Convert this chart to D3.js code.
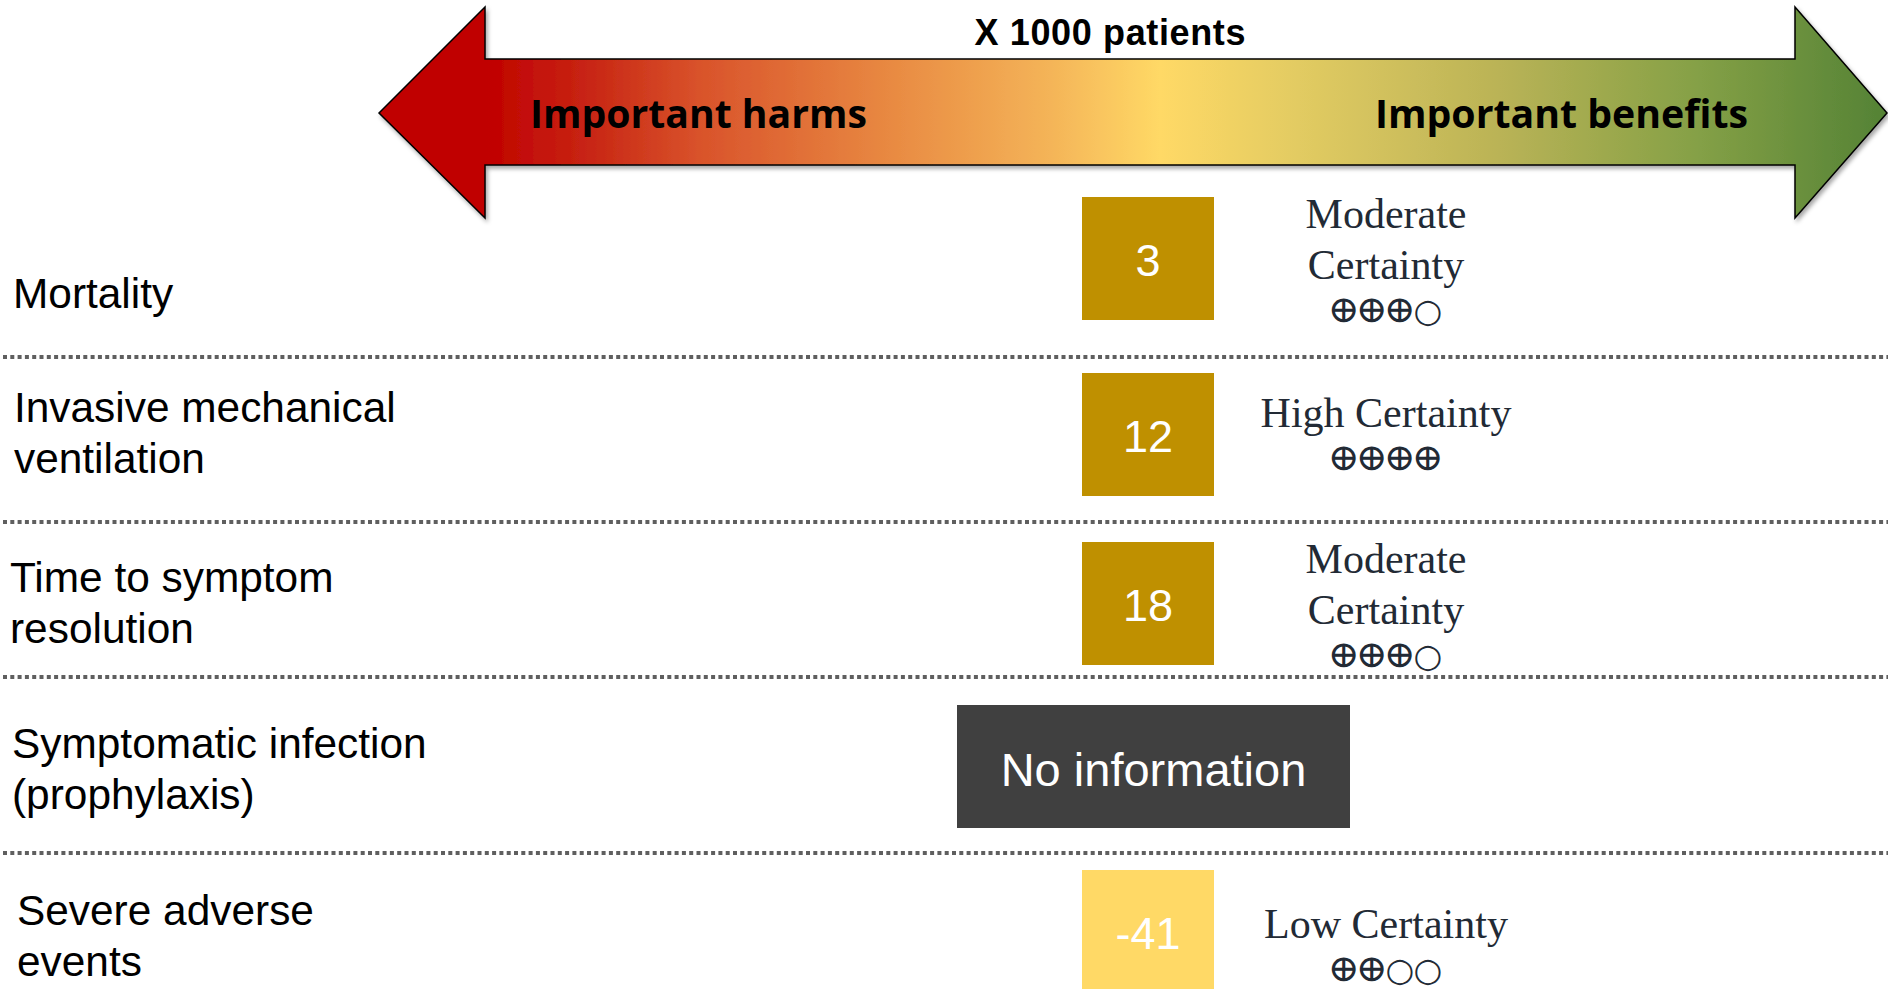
<!DOCTYPE html>
<html>
<head>
<meta charset="utf-8">
<script src="https://cdn.jsdelivr.net/npm/d3@7/dist/d3.min.js"></script>
<style>
    html, body { margin: 0; padding: 0; background: #ffffff; overflow: hidden; }
    svg { display: block; }
</style>
</head>
<body>
<svg id="chart"></svg>
<script>
// chart values
const outcomes = ['Mortality', 'Invasive mechanical ventilation', 'Time to symptom resolution',
                  'Symptomatic infection (prophylaxis)', 'Severe adverse events'];
const outcome_lines = [['Mortality'], ['Invasive mechanical', 'ventilation'], ['Time to symptom', 'resolution'],
                       ['Symptomatic infection', '(prophylaxis)'], ['Severe adverse', 'events']];
const effects = [3, 12, 18, null, -41];
const certainty_lines = [['Moderate', 'Certainty'], ['High Certainty'], ['Moderate', 'Certainty'], null, ['Low Certainty']];
const certainty_ratings = ['⊕⊕⊕○', '⊕⊕⊕⊕', '⊕⊕⊕○', null, '⊕⊕○○'];
const scale_title = 'X 1000 patients';
const harm_label = 'Important harms';
const benefit_label = 'Important benefits';
const missing_label = 'No information';

class EffectSummary {
    constructor (config) {
        this.config = {
            parent: config.parent,
            width: config.width || 1888,
            height: config.height || 989,
            row_tops: config.row_tops,
            label_baselines: config.label_baselines,
            label_x: config.label_x,
            separators: config.separators,
            certainty_offsets: config.certainty_offsets
        };
        this.init();
    }

    init() {
        let self = this;

        self.svg = d3.select(self.config.parent)
            .attr('width', self.config.width)
            .attr('height', self.config.height);

        self.yscale = d3.scaleOrdinal()
            .domain(outcomes)
            .range(self.config.row_tops);

        self.label_scale = d3.scaleOrdinal()
            .domain(outcomes)
            .range(self.config.label_baselines);

        // arrow runs from harms (-1) to benefits (+1)
        self.xscale = d3.scaleLinear()
            .domain([-1, 1])
            .range([379, 1887]);

        // one slot per rating symbol
        self.symbol_scale = d3.scalePoint()
            .domain([0, 1, 2, 3])
            .range([-42, 42]);

        self.rows = outcomes.map((d, i) => ({
            outcome: d,
            lines: outcome_lines[i],
            effect: effects[i],
            certainty: certainty_lines[i],
            rating: certainty_ratings[i],
            label_x: self.config.label_x[i],
            cert_offset: self.config.certainty_offsets[i]
        }));
    }

    render() {
        let self = this;
        self.render_arrow();
        self.render_separators();
        self.render_labels();
        self.render_boxes();
        self.render_certainty();
    }

    render_arrow() {
        let self = this;
        const defs = self.svg.append('defs');

        const stops = [
            [0.00, '#c00000'], [0.07, '#c00000'], [0.14, '#c82614'],
            [0.213, '#d9532b'], [0.345, '#e98c43'], [0.445, '#f4b458'],
            [0.518, '#ffd966'], [0.61, '#e2cb62'], [0.743, '#bab356'],
            [0.876, '#84a046'], [1.00, '#548235']
        ];
        const grad = defs.append('linearGradient')
            .attr('id', 'arrow-grad')
            .attr('gradientUnits', 'userSpaceOnUse')
            .attr('x1', self.xscale(-1)).attr('x2', self.xscale(1))
            .attr('y1', 0).attr('y2', 0);
        grad.selectAll('stop')
            .data(stops)
            .enter()
            .append('stop')
            .attr('offset', d => d[0])
            .attr('stop-color', d => d[1]);

        defs.append('filter')
            .attr('id', 'arrow-shadow')
            .attr('x', '-5%').attr('y', '-10%')
            .attr('width', '110%').attr('height', '130%')
            .append('feDropShadow')
            .attr('dx', 2).attr('dy', 3)
            .attr('stdDeviation', 2)
            .attr('flood-color', '#000')
            .attr('flood-opacity', 0.35);

        const x0 = self.xscale(-1), x1 = self.xscale(1);
        const left_base = 485, right_base = 1795;
        const mid = 113, head_top = 7, head_bottom = 218, shaft_top = 59, shaft_bottom = 165;

        const p = d3.path();
        p.moveTo(x0, mid);
        p.lineTo(left_base, head_top);
        p.lineTo(left_base, shaft_top);
        p.lineTo(right_base, shaft_top);
        p.lineTo(right_base, head_top);
        p.lineTo(x1, mid);
        p.lineTo(right_base, head_bottom);
        p.lineTo(right_base, shaft_bottom);
        p.lineTo(left_base, shaft_bottom);
        p.lineTo(left_base, head_bottom);
        p.closePath();

        self.svg.append('path')
            .attr('d', p.toString())
            .attr('fill', 'url(#arrow-grad)')
            .attr('stroke', '#000')
            .attr('stroke-width', 1.5)
            .attr('stroke-linejoin', 'miter')
            .attr('filter', 'url(#arrow-shadow)');

        self.svg.append('text')
            .attr('x', 1110)
            .attr('y', 45)
            .attr('text-anchor', 'middle')
            .attr('textLength', 271)
            .style('font-family', '"Liberation Sans", Arial, sans-serif')
            .style('font-weight', 'bold')
            .style('font-size', '36px')
            .attr('fill', '#000')
            .text(scale_title);

        const side_font = '"Open Sans", Lato, sans-serif';
        self.svg.append('text')
            .attr('x', 530)
            .attr('y', 128)
            .attr('textLength', 337)
            .attr('lengthAdjust', 'spacingAndGlyphs')
            .style('font-family', side_font)
            .style('font-weight', 'bold')
            .style('font-size', '39px')
            .attr('fill', '#000')
            .text(harm_label);

        self.svg.append('text')
            .attr('x', 1375)
            .attr('y', 128)
            .attr('textLength', 373)
            .attr('lengthAdjust', 'spacingAndGlyphs')
            .style('font-family', side_font)
            .style('font-weight', 'bold')
            .style('font-size', '39px')
            .attr('fill', '#000')
            .text(benefit_label);
    }

    render_separators() {
        let self = this;
        self.svg.selectAll('.sep')
            .data(self.config.separators)
            .enter()
            .append('line')
            .attr('class', 'sep')
            .attr('x1', 3)
            .attr('x2', self.config.width)
            .attr('y1', d => d)
            .attr('y2', d => d)
            .attr('stroke', '#5f5f5f')
            .attr('stroke-width', 4)
            .attr('stroke-dasharray', '4 3.3');
    }

    render_labels() {
        let self = this;
        const line_height = 51;
        const labels = self.svg.selectAll('.row-label')
            .data(self.rows)
            .enter()
            .append('text')
            .attr('class', 'row-label')
            .attr('x', d => d.label_x)
            .attr('y', d => self.label_scale(d.outcome))
            .style('font-family', '"Liberation Sans", Arial, sans-serif')
            .style('font-size', '42.4px')
            .attr('fill', '#000');

        labels.selectAll('tspan')
            .data(d => d.lines.map((l, i) => ({ text: l, i: i, x: d.label_x })))
            .enter()
            .append('tspan')
            .attr('x', d => d.x)
            .attr('dy', d => d.i === 0 ? 0 : line_height)
            .text(d => d.text);
    }

    render_boxes() {
        let self = this;
        const box_x = 1082, box_w = 132, box_h = 123;
        const wide_x = 957, wide_w = 393;

        const color = d => d === null ? '#404040' : (d < 0 ? '#ffd966' : '#bf9000');

        const g = self.svg.selectAll('.box')
            .data(self.rows)
            .enter()
            .append('g')
            .attr('class', 'box')
            .attr('transform', d => `translate(0, ${self.yscale(d.outcome)})`);

        g.append('rect')
            .attr('x', d => d.effect === null ? wide_x : box_x)
            .attr('y', 0)
            .attr('width', d => d.effect === null ? wide_w : box_w)
            .attr('height', box_h)
            .attr('fill', d => color(d.effect));

        g.append('text')
            .attr('x', d => d.effect === null ? wide_x + wide_w / 2 : box_x + box_w / 2)
            .attr('y', d => d.effect === null ? 81 : 79)
            .attr('text-anchor', 'middle')
            .style('font-family', '"Liberation Sans", Arial, sans-serif')
            .style('font-size', d => d.effect === null ? '47px' : '45px')
            .attr('fill', '#fff')
            .text(d => d.effect === null ? missing_label : String(d.effect));
    }

    render_certainty() {
        let self = this;
        const cx = 1386;
        const rows = self.rows.filter(d => d.certainty !== null);

        const g = self.svg.selectAll('.cert')
            .data(rows)
            .enter()
            .append('g')
            .attr('class', 'cert')
            .attr('transform', d => `translate(${cx}, ${self.yscale(d.outcome) + d.cert_offset})`);

        g.each(function (d) {
            const node = d3.select(this);
            d.certainty.forEach((line, i) => {
                node.append('text')
                    .attr('x', 0)
                    .attr('y', i * 51)
                    .attr('text-anchor', 'middle')
                    .style('font-family', '"Liberation Serif", "Times New Roman", serif')
                    .style('font-size', '42px')
                    .attr('fill', '#222a35')
                    .text(line);
            });
            const rating = node.append('text')
                .attr('y', (d.certainty.length - 1) * 51 + 43)
                .attr('text-anchor', 'middle')
                .style('font-family', '"DejaVu Serif", "DejaVu Sans", serif')
                .attr('fill', '#222a35');
            rating.selectAll('tspan')
                .data(Array.from(d.rating).map((s, i) => ({ s: s, i: i })))
                .enter()
                .append('tspan')
                .attr('x', e => self.symbol_scale(e.i))
                .style('font-size', e => e.s === '○' ? '33px' : '38px')
                .text(e => e.s);
        });
    }
}

const chart = new EffectSummary({
    parent: '#chart',
    width: 1888,
    height: 989,
    row_tops: [197, 373, 542, 705, 870],
    label_baselines: [308, 422, 592, 758, 925],
    label_x: [13, 14, 10, 12, 17],
    separators: [357, 522, 677, 853],
    certainty_offsets: [31, 54, 31, 0, 68]
});
chart.render();
</script>
</body>
</html>
